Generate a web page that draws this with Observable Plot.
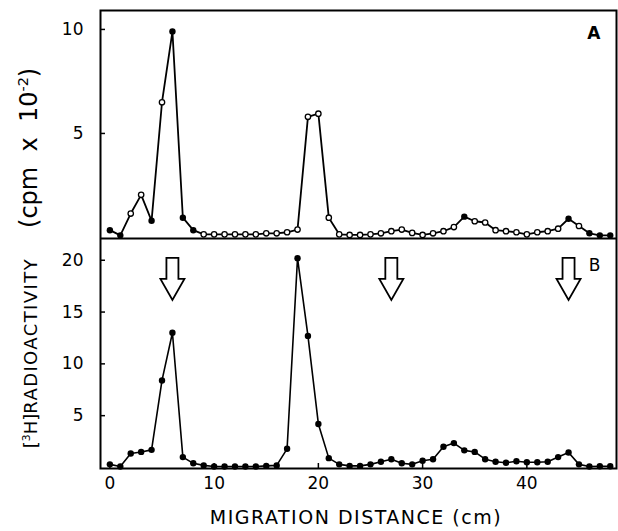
<!DOCTYPE html>
<html>
<head>
<meta charset="utf-8">
<script src="https://cdn.jsdelivr.net/npm/d3@7"></script>
<script src="https://cdn.jsdelivr.net/npm/@observablehq/plot@0.6"></script>
<style>
  body { margin: 0; background: #fff; }
  #wrap { position: relative; width: 618px; height: 531px; font-family: "DejaVu Sans", sans-serif; color: #000; }
  #wrap svg { display: block; }
  #ylab { position: absolute; left: 29px; top: 258px; transform: translate(-50%, -50%) rotate(-90deg); white-space: nowrap; font-size: 18px; }
  #ylab .rad { letter-spacing: 1.4px; }
  #ylab .cpm { font-size: 24px; margin-left: 30px; }
  #ylab sup { font-size: 60%; }
  #xlab { position: absolute; left: 356px; top: 517px; transform: translate(-50%, -50%); white-space: nowrap; font-size: 19px; letter-spacing: 1.5px; }
</style>
</head>
<body>
<div id="wrap">
  <div id="chart"></div>
  <div id="ylab">[<sup>3</sup>H]<span class="rad">RADIOACTIVITY</span><span class="cpm">(cpm&nbsp; x &nbsp;10<sup>-2</sup>)</span></div>
  <div id="xlab">MIGRATION DISTANCE (cm)</div>
</div>
<script>
// Migration distance (cm), one fraction per cm
const distance = [0,1,2,3,4,5,6,7,8,9,10,11,12,13,14,15,16,17,18,19,20,21,22,23,24,25,26,27,28,29,30,31,32,33,34,35,36,37,38,39,40,41,42,43,44,45,46,47,48];
// Panel A radioactivity (cpm x 10^-2)
const valuesA = [0.35,0.1,1.15,2.05,0.8,6.5,9.9,0.95,0.35,0.15,0.15,0.15,0.15,0.15,0.15,0.2,0.2,0.25,0.38,5.8,5.95,0.95,0.15,0.12,0.12,0.15,0.2,0.3,0.38,0.22,0.12,0.2,0.3,0.5,1.0,0.78,0.72,0.35,0.3,0.25,0.15,0.25,0.3,0.42,0.9,0.55,0.2,0.1,0.1];
// Panel A marker style: "f" filled, "o" open
const markerA = ["f","f","o","o","f","o","f","f","f","o","o","o","o","o","o","o","o","o","o","o","o","o","o","o","o","o","o","o","o","o","o","o","o","o","f","o","o","o","o","o","o","o","o","o","f","o","f","f","f"];
// Panel B radioactivity (cpm x 10^-2)
const valuesB = [0.3,0.1,1.35,1.5,1.7,8.4,13.0,1.0,0.4,0.2,0.1,0.1,0.1,0.1,0.1,0.15,0.2,1.8,20.2,12.7,4.2,0.9,0.3,0.15,0.15,0.3,0.55,0.8,0.4,0.3,0.65,0.8,2.0,2.35,1.65,1.5,0.8,0.55,0.45,0.6,0.5,0.5,0.55,1.0,1.45,0.3,0.1,0.12,0.12];
// Arrow marker positions in panel B
const arrowX = [6, 27, 44];
const arrowY = 18.2;
// Tick labels
const xTicks = [0, 10, 20, 30, 40];
const yTicksA = [5, 10];
const yTicksB = [5, 10, 15, 20];

const dataA = distance.map((d, i) => ({x: d, y: valuesA[i], m: markerA[i]}));
const dataB = distance.map((d, i) => ({x: d, y: valuesB[i]}));
const arrows = arrowX.map(x => ({x, y: arrowY}));

// Hollow down-arrow symbol (pixel geometry)
const arrowSymbol = {
  draw(ctx) {
    ctx.moveTo(-6, -21);
    ctx.lineTo(6, -21);
    ctx.lineTo(6, 0);
    ctx.lineTo(12, 0);
    ctx.lineTo(0, 21);
    ctx.lineTo(-12, 0);
    ctx.lineTo(-6, 0);
    ctx.closePath();
  }
};

const xDomain = [-0.9, 48.6];
const common = {
  width: 618,
  marginLeft: 100,
  marginRight: 2,
  style: {fontFamily: "DejaVu Sans, sans-serif", fontSize: "17px", color: "#000", background: "#fff"}
};

const plotA = Plot.plot({
  ...common,
  height: 238,
  marginTop: 10,
  marginBottom: 0,
  x: {domain: xDomain, axis: null},
  y: {domain: [-0.05, 10.91], axis: null},
  marks: [
    Plot.axisY({ticks: yTicksA, tickSize: -5, tickPadding: 22, label: null, strokeWidth: 1.5}),
    Plot.line(dataA, {x: "x", y: "y", stroke: "#000", strokeWidth: 1.8}),
    Plot.dot(dataA.filter(d => d.m === "o"), {x: "x", y: "y", r: 2.7, fill: "#fff", stroke: "#000", strokeWidth: 1.3}),
    Plot.dot(dataA.filter(d => d.m === "f"), {x: "x", y: "y", r: 3.2, fill: "#000", stroke: "none"}),
    Plot.text(["A"], {frameAnchor: "top-right", dx: -16, dy: 16, fontSize: 17, fontWeight: "bold"}),
    Plot.frame({stroke: "#000", strokeWidth: 2})
  ]
});

const plotB = Plot.plot({
  ...common,
  height: 293,
  marginTop: 0,
  marginBottom: 63,
  x: {domain: xDomain, axis: null},
  y: {domain: [-0.1, 22.1], axis: null},
  marks: [
    Plot.axisY({ticks: yTicksB, tickSize: -5, tickPadding: 22, label: null, strokeWidth: 1.5}),
    Plot.axisX({ticks: xTicks, tickSize: -5, tickPadding: 13, label: null, strokeWidth: 1.5}),
    Plot.line(dataB, {x: "x", y: "y", stroke: "#000", strokeWidth: 1.6}),
    Plot.dot(dataB, {x: "x", y: "y", r: 3.2, fill: "#000", stroke: "none"}),
    Plot.dot(arrows, {x: "x", y: "y", r: 5, symbol: arrowSymbol, fill: "#fff", stroke: "#000", strokeWidth: 1.8}),
    Plot.text(["B"], {frameAnchor: "top-right", dx: -16, dy: 20, fontSize: 17}),
    Plot.frame({stroke: "#000", strokeWidth: 2})
  ]
});

const chart = document.getElementById("chart");
chart.appendChild(plotA);
chart.appendChild(plotB);
</script>
</body>
</html>
